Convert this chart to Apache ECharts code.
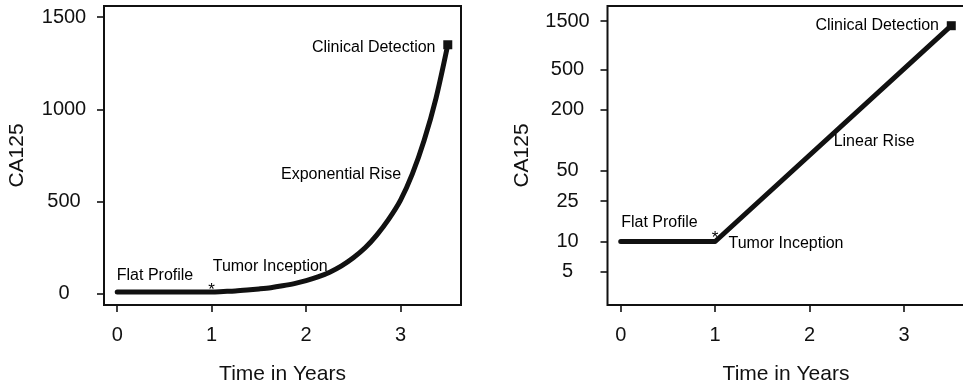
<!DOCTYPE html>
<html>
<head>
<meta charset="utf-8">
<script src="https://cdn.jsdelivr.net/npm/echarts@6/dist/echarts.min.js"></script>
<style>
html,body{margin:0;padding:0;background:#fff;}
#chart{width:963px;height:389px;}
</style>
</head>
<body>
<div id="chart"></div>
<script>
// ---- data ----
const expYears   = [0, 0.5, 1, 1.125, 1.25, 1.375, 1.5, 1.625, 1.75, 1.875, 2, 2.125, 2.25, 2.375, 2.5, 2.625, 2.75, 2.875, 3, 3.125, 3.25, 3.375, 3.5];
const expCA125   = [10, 10, 10, 13, 16, 21, 27, 34, 44, 56, 72, 92, 118, 152, 196, 250, 320, 405, 508, 650, 832, 1060, 1350];
const linYears   = [0, 1, 3.5];
const linCA125   = [10, 10, 1350];
const detection  = [3.5, 1350];
const xTicks     = [0, 1, 2, 3];
const yTicksLeft = [0, 500, 1000, 1500];
const yTicksRight= [5, 10, 25, 50, 200, 500, 1500];
const leftNotes  = [
  ['Clinical Detection', 3.37, 1332, 'right'],
  ['Exponential Rise', 2.37, 644, 'center'],
  ['Tumor Inception', 1.62, 146, 'center'],
  ['Flat Profile', 0.40, 97, 'center'],
  ['*', 1.0, 18, 'center']
];
const rightNotes = [
  ['Clinical Detection', 3.37, 1341, 'right'],
  ['Linear Rise', 2.683, 96, 'center'],
  ['Flat Profile', 0.41, 15.2, 'center'],
  ['Tumor Inception', 1.75, 9.44, 'center'],
  ['*', 1.0, 10.7, 'center']
];

const FONT = '"Liberation Sans", Arial, Helvetica, sans-serif';
const INK = '#111';

function xAxisCfg(gi) {
  return {
    type: 'value', gridIndex: gi, min: -0.14, max: 3.64,
    axisLine: {show: false, onZero: false},
    axisTick: {show: true, customValues: xTicks, length: 7, lineStyle: {color: INK, width: 1.6}},
    axisLabel: {customValues: xTicks, formatter: v => String(v), fontSize: 20, margin: 20, color: INK, fontFamily: FONT},
    splitLine: {show: false},
    name: 'Time in Years', nameLocation: 'middle', nameGap: 59,
    nameTextStyle: {fontSize: 21, color: INK, fontFamily: FONT}
  };
}
function yAxisCfg(gi, ticks, extra) {
  return Object.assign({
    gridIndex: gi,
    axisLine: {show: false, onZero: false},
    axisTick: {show: true, customValues: ticks, length: 7, lineStyle: {color: INK, width: 1.6}},
    axisLabel: {customValues: ticks, formatter: v => String(v), fontSize: 20, margin: 40, align: 'center',
                padding: [7, 0, 0, 0], color: INK, fontFamily: FONT},
    splitLine: {show: false},
    name: 'CA125', nameLocation: 'middle', nameRotate: 90,
    nameTextStyle: {fontSize: 21, color: INK, fontFamily: FONT}
  }, extra);
}
function notesSeries(notes, gi) {
  return {
    type: 'scatter', xAxisIndex: gi, yAxisIndex: gi, symbolSize: 0, silent: true,
    itemStyle: {opacity: 1},
    data: notes.map(n => ({
      value: [n[1], n[2]],
      label: {show: true, position: 'inside', formatter: n[0], align: n[3], opacity: 1,
              fontSize: n[0] === '*' ? 17 : 16, color: '#000', fontFamily: FONT}
    })),
    z: 5
  };
}

const chart = echarts.init(document.getElementById('chart'), null, {renderer: 'canvas'});
chart.setOption({
  animation: false,
  backgroundColor: '#fff',
  grid: [
    {left: 104, top: 6, width: 357, height: 299, show: true, borderColor: INK, borderWidth: 2, containLabel: false, outerBoundsMode: 'none'},
    {left: 607.5, top: 6, width: 357, height: 299, show: true, borderColor: INK, borderWidth: 2, containLabel: false, outerBoundsMode: 'none'}
  ],
  xAxis: [xAxisCfg(0), xAxisCfg(1)],
  yAxis: [
    yAxisCfg(0, yTicksLeft, {type: 'value', min: -60, max: 1560, nameGap: 76}),
    yAxisCfg(1, yTicksRight, {type: 'log', logBase: 10, min: 2.36, max: 2113, nameGap: 75})
  ],
  series: [
    {type: 'line', xAxisIndex: 0, yAxisIndex: 0, smooth: 0.3, showSymbol: false,
     data: expYears.map((t, i) => [t, expCA125[i]]),
     lineStyle: {color: INK, width: 5, cap: 'round', join: 'round'}},
    {type: 'line', xAxisIndex: 1, yAxisIndex: 1, showSymbol: false,
     data: linYears.map((t, i) => [t, linCA125[i]]),
     lineStyle: {color: INK, width: 5, cap: 'round', join: 'round'}},
    {type: 'scatter', xAxisIndex: 0, yAxisIndex: 0, symbol: 'rect', symbolSize: 9, data: [detection],
     itemStyle: {color: INK, opacity: 1}, z: 6},
    {type: 'scatter', xAxisIndex: 1, yAxisIndex: 1, symbol: 'rect', symbolSize: 9, data: [detection],
     itemStyle: {color: INK, opacity: 1}, z: 6},
    notesSeries(leftNotes, 0),
    notesSeries(rightNotes, 1)
  ]
});
</script>
</body>
</html>
